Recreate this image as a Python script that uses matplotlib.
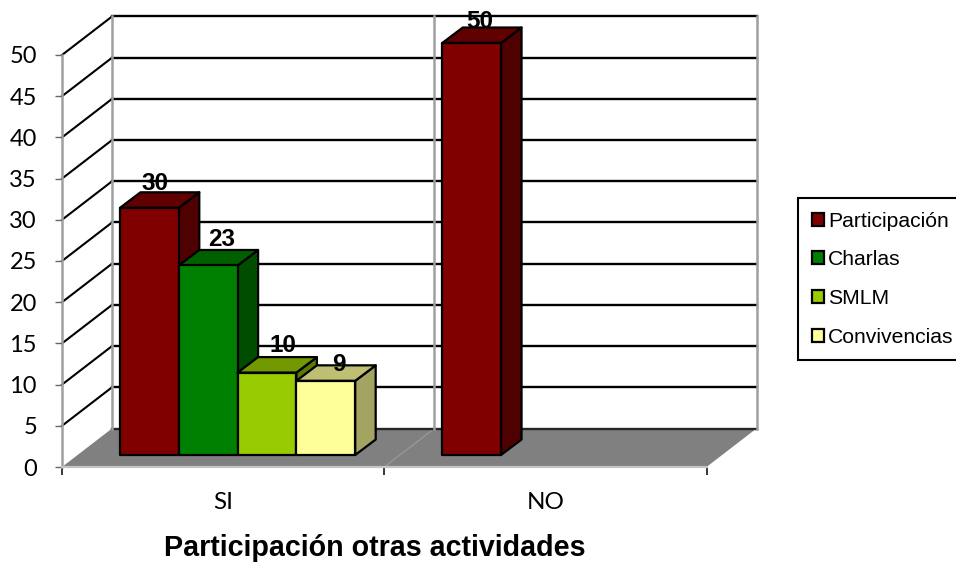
#!/usr/bin/env python3
"""Pseudo-3D clustered bar chart: Participación otras actividades."""
import matplotlib

matplotlib.use("Agg")
import matplotlib.pyplot as plt
from matplotlib.patches import Patch, Polygon

categories = ["SI", "NO"]
series_names = ["Participación", "Charlas", "SMLM", "Convivencias"]
participacion = [30, 50]
charlas = [23, None]
smlm = [10, None]
convivencias = [9, None]
y_ticks = list(range(0, 55, 5))

FRONT_COLORS = ["#800000", "#008000", "#99cc00", "#ffff99"]
TOP_COLORS = ["#600000", "#006000", "#739900", "#bfbf73"]
SIDE_COLORS = ["#4f0000", "#004d00", "#5c7a00", "#a3a362"]

W, H = 956, 563
AX_LEFT, AX_RIGHT, AX_TOP, AX_BOTTOM = 62, 706.5, 55, 467
PX_X = (AX_RIGHT - AX_LEFT) / 2  # pixels per category
PX_Y = (AX_BOTTOM - AX_TOP) / 50  # pixels per value unit

# depth of the floor and of each bar, in data units
WALL_DX, WALL_DY = 50 / PX_X, 38.5 / PX_Y
BAR_DX, BAR_DY = 20.5 / PX_X, 15.5 / PX_Y
BAR_START = 58 / PX_X
BAR_WIDTH = 58.8 / PX_X
BAR_BASE = 12 / PX_Y

# label offsets from the bar's front top centre (pixels)
LABEL_OFFSETS = {
    (0, 0): (6, 24), (0, 1): (13, 26), (0, 2): (16, 27), (0, 3): (13, 16),
    (1, 0): (8, 21),
}

plt.rcParams["font.family"] = ["Liberation Sans", "DejaVu Sans"]

fig = plt.figure(figsize=(W / 100, H / 100), dpi=100)
ax = fig.add_axes([
    AX_LEFT / W, 1 - AX_BOTTOM / H,
    (AX_RIGHT - AX_LEFT) / W, (AX_BOTTOM - AX_TOP) / H,
])
ax.set_xlim(0, len(categories))
ax.set_ylim(0, 50)
ax.patch.set_visible(False)


def poly(points, face, zorder=3, edge="black", lw=1.6):
    ax.add_patch(Polygon(points, closed=True, facecolor=face, edgecolor=edge,
                         linewidth=lw, joinstyle="round", clip_on=False,
                         zorder=zorder))


# floor
n = len(categories)
poly([(0, 0), (WALL_DX, WALL_DY), (n + WALL_DX, WALL_DY), (n, 0)],
     "#808080", zorder=1, edge="none", lw=0)

# gridlines on side wall and back wall
for v in y_ticks:
    color = "#262626" if v == 0 else "black"
    if v > 0:
        ax.plot([0, WALL_DX], [v, v + WALL_DY], color="black", lw=1.5,
                clip_on=False, zorder=2)
    ax.plot([WALL_DX, n + WALL_DX], [v + WALL_DY, v + WALL_DY], color=color,
            lw=1.7, clip_on=False, zorder=2)

# vertical wall lines
for i in range(n + 1):
    ax.plot([i + WALL_DX, i + WALL_DX], [WALL_DY, 50 + WALL_DY], color="#a0a0a0",
            lw=1.8, clip_on=False, zorder=2)
ax.plot([1, 1 + WALL_DX], [0, WALL_DY], color="#999999", lw=0.9, clip_on=False,
        zorder=1.5)

# bars, left to right so each one covers the previous one's side
values = [participacion, charlas, smlm, convivencias]
zo = 3
for c in range(len(categories)):
    for s, vals in enumerate(values):
        v = vals[c]
        if v is None:
            continue
        x0 = c + BAR_START + s * BAR_WIDTH
        x1 = x0 + BAR_WIDTH
        y0 = BAR_BASE
        y1 = BAR_BASE + v
        poly([(x1, y0), (x1 + BAR_DX, y0 + BAR_DY), (x1 + BAR_DX, y1 + BAR_DY), (x1, y1)],
             SIDE_COLORS[s], zorder=zo)
        poly([(x0, y1), (x0 + BAR_DX, y1 + BAR_DY), (x1 + BAR_DX, y1 + BAR_DY), (x1, y1)],
             TOP_COLORS[s], zorder=zo)
        poly([(x0, y0), (x1, y0), (x1, y1), (x0, y1)], FRONT_COLORS[s], zorder=zo)
        zo += 1
        dx, dy = LABEL_OFFSETS[(c, s)]
        ax.annotate(str(v), xy=((x0 + x1) / 2, y1), xytext=(dx, dy),
                    textcoords="offset pixels", ha="center", va="center",
                    fontsize=17.5, fontweight="bold", color="black",
                    annotation_clip=False, zorder=50)

# axes
for name in ("top", "right"):
    ax.spines[name].set_visible(False)
ax.spines["left"].set_color("#a0a0a0")
ax.spines["left"].set_linewidth(1.8)
ax.spines["bottom"].set_color("#c4c4c4")
ax.spines["bottom"].set_linewidth(1.6)
ax.set_yticks(y_ticks)
ax.set_yticklabels([str(v) for v in y_ticks], family="Lato", fontsize=17)
ax.tick_params(axis="y", length=5, width=1, color="#666666", pad=13)
ax.set_xticks(range(n + 1))
ax.set_xticklabels([])
ax.tick_params(axis="x", which="major", length=6, width=1.1, color="black")
ax.set_xticks([i + 0.5 for i in range(n)], minor=True)
ax.set_xticklabels(categories, minor=True, family="Lato", fontsize=17.5)
ax.tick_params(axis="x", which="minor", length=0, pad=18)

ax.set_xlabel("Participación otras actividades", fontsize=20.6, fontweight="bold")
ax.xaxis.set_label_coords((375 - AX_LEFT) / (AX_RIGHT - AX_LEFT),
                          -(548.5 - AX_BOTTOM) / (AX_BOTTOM - AX_TOP), )
ax.xaxis.label.set_verticalalignment("center")

# legend runs off the right edge of the picture
handles = [Patch(facecolor=c, edgecolor="black", linewidth=1.6) for c in FRONT_COLORS]
leg = fig.legend(handles, series_names, loc="upper left",
                 bbox_to_anchor=(798 / W, 1 - 198 / H), fontsize=15.2,
                 fancybox=False, edgecolor="black", framealpha=1,
                 borderaxespad=0, borderpad=0.65, labelspacing=0.93,
                 handlelength=0.58, handleheight=0.58, handletextpad=0.2)
leg.get_frame().set_linewidth(1.5)

fig.savefig("out.png", dpi=100)
